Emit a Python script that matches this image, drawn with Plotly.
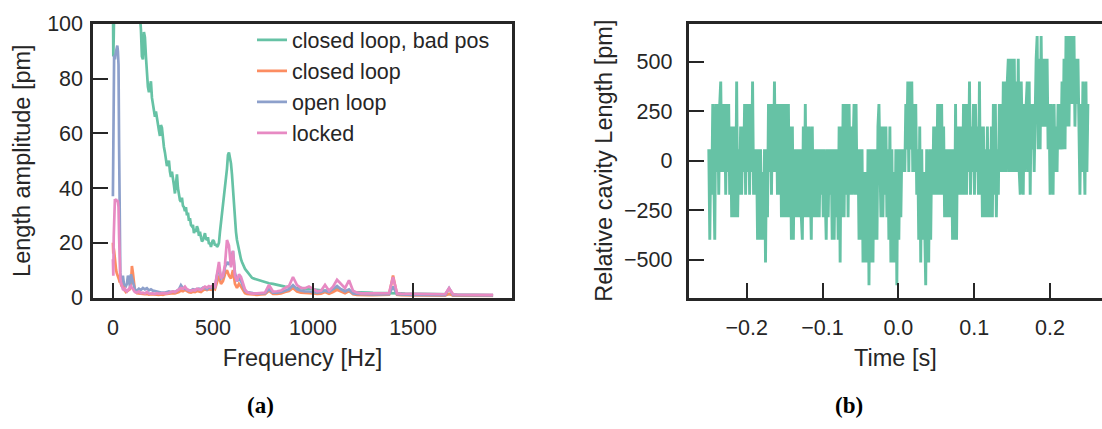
import numpy as np
import plotly.graph_objects as go

# ---------------- data: panel (a) ----------------
freq_hz = [0, 2, 4, 6, 8, 10, 13, 16, 19, 22, 25, 28, 31, 34, 37, 40, 45, 50, 55, 60,
           65, 70, 75, 80, 85, 90, 95, 100, 105, 110,
           120, 130, 140, 150, 160, 170, 180, 190, 200,
           210, 220, 230, 240, 250, 260, 270, 280, 290, 300,
           310, 320, 330, 340, 350, 360, 370, 380, 390, 400,
           410, 420, 430, 440, 450, 460, 470, 480, 490, 500,
           510, 520, 530, 540, 550, 560, 570, 580, 590, 600,
           610, 620, 630, 640, 650, 660, 670, 680, 690, 700,
           720, 740, 760, 780, 800, 820, 840, 860, 880, 900,
           920, 940, 960, 980, 1000, 1020, 1040, 1060, 1080, 1100,
           1120, 1140, 1160, 1180, 1200, 1220, 1240, 1260, 1280, 1300,
           1320, 1340, 1360, 1380, 1400, 1420, 1440, 1460, 1480, 1500,
           1520, 1540, 1560, 1580, 1600, 1620, 1640, 1660, 1680, 1700,
           1720, 1740, 1760, 1780, 1800, 1820, 1840, 1860, 1880, 1900]

# finer frequency grid for the noisy "bad pos" spectrum
freq_hz_bad_pos = [0, 2, 4, 6, 8, 10, 13, 16, 19, 22, 25, 28, 31, 34, 37, 40, 45, 50, 55, 60,
                   65, 70, 75, 80, 85, 90, 95, 100, 105, 110,
                   115, 120, 125, 130, 135, 140, 145, 150, 155, 160,
                   165, 170, 175, 180, 185, 190, 195, 200, 205, 210,
                   215, 220, 225, 230, 235, 240, 245, 250, 255, 260,
                   265, 270, 275, 280, 285, 290, 295, 300, 305, 310,
                   315, 320, 325, 330, 335, 340, 345, 350, 355, 360,
                   365, 370, 375, 380, 385, 390, 395, 400, 405, 410,
                   415, 420, 425, 430, 435, 440, 445, 450, 455, 460,
                   465, 470, 475, 480, 485, 490, 495, 500, 505, 510,
                   515, 520, 525, 530, 535, 540, 545, 550, 555, 560,
                   565, 570, 575, 580, 585, 590, 595, 600, 605, 610,
                   615, 620, 625, 630, 635, 640, 645, 650, 655, 660,
                   665, 670, 675, 680, 685, 690, 695, 700,
                   720, 740, 760, 780, 800, 820, 840, 860, 880, 900,
                   920, 940, 960, 980, 1000, 1020, 1040, 1060, 1080, 1100,
                   1120, 1140, 1160, 1180, 1200, 1220, 1240, 1260, 1280, 1300,
                   1320, 1340, 1360, 1380, 1400, 1420, 1440, 1460, 1480, 1500,
                   1520, 1540, 1560, 1580, 1600, 1620, 1640, 1660, 1680, 1700,
                   1720, 1740, 1760, 1780, 1800, 1820, 1840, 1860, 1880, 1900]

amp_closed_bad_pos = [112, 88, 95, 104, 116, 125, 135, 140, 138, 145, 150, 148, 152, 150, 153, 155, 152, 150, 147, 145,
                      143, 140, 138, 136, 134, 131, 129, 127, 124, 121,
                      118, 116, 112, 108, 103, 98, 88, 87, 97, 95,
                      88, 81, 77, 75, 78, 79, 73, 70, 69, 66,
                      68, 65, 62, 61, 59, 63, 62, 57, 55, 53,
                      51, 48, 49, 50, 46, 44, 46, 42, 41, 38,
                      41, 45, 40, 37, 35.5, 35, 36.5, 33.5, 33, 31.5,
                      33, 30, 31, 28, 29, 26.5, 26, 26.5, 23.5, 25,
                      24, 26, 25, 22.5, 24, 22, 20.5, 21, 23, 23.5,
                      21.5, 21, 22, 19.5, 20, 18.5, 20, 21, 20.5, 19,
                      19.5, 18.5, 19, 20, 24, 27, 30, 33, 36, 41,
                      44, 47, 52, 53, 51, 49, 45, 39, 33, 29,
                      24, 21, 19, 17, 15, 14, 13, 12, 11, 10.5,
                      10, 9.5, 9, 8.5, 8, 7.5, 7.2, 7,
                      6.5, 6.2, 5.6, 5.2, 5.0, 4.6, 4.3, 4.0, 3.8, 3.6,
                      3.4, 3.5, 3.1, 3.2, 2.9, 2.8, 2.6, 2.5, 2.5, 2.7,
                      3.3, 2.8, 2.4, 2.2, 2.0, 2.0, 1.9, 1.8, 1.8, 1.7,
                      1.7, 1.6, 1.6, 1.6, 1.7, 1.5, 1.5, 1.4, 1.4, 1.4,
                      1.4, 1.3, 1.3, 1.3, 1.3, 1.2, 1.2, 1.2, 1.4, 1.2,
                      1.1, 1.1, 1.1, 1.1, 1.0, 1.0, 1.0, 1.0, 1.0, 0.9]

amp_closed = [20, 16, 18, 17, 15, 13, 11, 10, 9, 8.5, 8, 7.5, 6.5, 5.5, 7, 5, 4, 6, 3.5, 2.5,
              2.0, 2.2, 2.4, 2.6, 3.0, 5.0, 11.5, 9.0, 4.0, 2.4,
              1.6, 1.5, 1.3, 1.4, 1.2, 1.3, 1.1, 1.2, 1.1,
              1.0, 1.1, 1.0, 1.1, 1.0, 1.2, 1.3, 1.5, 1.4, 1.6,
              1.5, 1.8, 2.0, 2.6, 2.3, 2.8, 2.2, 1.9, 1.8, 2.1,
              2.0, 2.4, 2.2, 2.0, 2.6, 3.0, 2.7, 3.0, 2.8, 3.4,
              3.0, 6.0, 8.0, 5.0, 6.0, 8.5, 10.0, 8.0, 7.0, 10.0,
              5.0, 3.5, 5.0, 4.0, 2.5, 1.6, 1.3, 1.2, 1.1, 1.1,
              1.0, 1.1, 1.2, 2.5, 1.3, 1.3, 1.5, 2.0, 2.4, 3.5,
              2.2, 1.8, 1.7, 1.8, 1.5, 1.3, 1.4, 2.0, 1.4, 2.0,
              2.8, 2.2, 1.6, 2.4, 1.2, 1.0, 0.9, 0.9, 0.9, 0.9,
              0.9, 0.9, 0.9, 1.0, 8.0, 1.0, 0.9, 0.8, 0.8, 0.8,
              0.8, 0.8, 0.8, 0.8, 0.8, 0.7, 0.7, 0.7, 1.4, 0.7,
              0.7, 0.7, 0.7, 0.7, 0.7, 0.6, 0.6, 0.6, 0.6, 0.6]

amp_open = [37, 60, 87, 88, 88, 87, 89, 90, 91, 92, 90, 85, 55, 20, 9, 6.5, 5.5, 8, 5, 4.5,
            4.2, 5, 8, 7, 4, 8.5, 7, 5, 3.5, 3,
            2.5, 3.2, 2.8, 3.5, 3.0, 3.4, 2.6, 3.0, 2.5,
            2.4, 2.2, 2.0, 1.8, 1.7, 1.8, 2.0, 2.2, 2.0, 2.2,
            2.0, 2.6, 3.0, 4.5, 3.5, 3.2, 2.8, 2.6, 2.6, 3.0,
            2.8, 3.0, 3.2, 3.0, 3.6, 3.5, 3.0, 3.8, 3.5, 4.0,
            3.8, 8.0, 11, 7, 7.5, 11, 13, 12, 14, 17,
            9, 6, 7, 6, 4, 2.5, 2.0, 1.8, 1.6, 1.6,
            1.4, 1.5, 1.6, 3.0, 1.8, 1.8, 2.0, 2.5, 3.0, 4.5,
            3.0, 2.5, 2.2, 2.2, 2.0, 1.8, 2.0, 2.5, 2.0, 3.0,
            4.2, 3.0, 2.2, 3.0, 1.5, 1.3, 1.2, 1.2, 1.2, 1.1,
            1.1, 1.1, 1.1, 1.2, 4.0, 1.2, 1.1, 1.0, 1.0, 1.0,
            1.0, 1.0, 1.0, 1.0, 0.9, 0.9, 0.9, 0.9, 3.4, 0.9,
            0.9, 0.9, 0.8, 0.8, 0.8, 0.8, 0.8, 0.8, 0.8, 0.8]

amp_locked = [14, 8, 22, 33, 36, 36, 35.5, 36, 35, 35.5, 35, 33, 22, 12, 7, 5.5, 4.5, 3, 2.8, 3.2,
              2.5, 2.2, 2.8, 3.0, 3.8, 4.2, 3.5, 3.2, 2.5, 2.0,
              1.8, 2.2, 1.6, 1.8, 1.5, 2.0, 1.4, 1.5, 1.5,
              1.3, 1.6, 1.4, 1.5, 1.4, 1.6, 1.5, 1.7, 1.8, 2.2,
              2.0, 2.5, 2.8, 3.5, 3.2, 4.0, 3.0, 2.6, 2.4, 2.8,
              2.6, 3.2, 3.0, 2.8, 3.5, 4.0, 3.6, 4.2, 3.8, 4.5,
              4.0, 9.5, 13, 7, 8, 12, 21, 19, 11, 17,
              8, 6, 8.5, 7.5, 5, 3, 2.0, 1.7, 1.5, 1.4,
              1.5, 1.6, 1.8, 4.6, 2.2, 2.3, 2.5, 3.5, 4.2, 7.5,
              4.5, 3.5, 3.4, 4.0, 3.0, 2.3, 2.5, 4.6, 2.5, 4.0,
              6.5, 5.0, 3.4, 6.3, 2.5, 1.8, 1.5, 1.5, 1.5, 1.5,
              1.5, 1.4, 1.5, 1.6, 7.5, 1.5, 1.4, 1.4, 1.3, 1.3,
              1.3, 1.3, 1.2, 1.2, 1.2, 1.2, 1.2, 1.2, 3.4, 1.2,
              1.1, 1.1, 1.1, 1.1, 1.1, 1.0, 1.0, 1.0, 1.0, 1.0]

series_names = ["closed loop, bad pos", "closed loop", "open loop", "locked"]

# ---------------- data: panel (b) ----------------
cavity_length_pm = [
    57, -400, 57, -172, 286, -172, -400, 286, -57, 286, -172, 286, 400, -57, 286, -57, 286, -172, 286, -57,
    286, -172, 172, -286, 172, -286, 172, -286, 400, -286, 57, -172, 172, -172, 172, -57, 286, -172, 286, -57,
    286, -172, 286, -57, 400, -172, 57, -172, 57, -400, 57, -400, 57, -400, -57, -400, 57, -515, 57, -286,
    286, -57, 286, -172, 286, -57, 400, -57, 286, -172, 286, -172, 286, -286, 286, -286, 286, -286, 286, -286,
    286, -286, 172, -400, 172, -400, 57, -286, 57, -286, 57, -286, 57, -286, -400, 172, -286, 286, -286, 172,
    -286, 172, -286, -400, 172, -286, 57, -286, 57, -286, 57, -286, 57, -172, 57, -286, 57, -172, -400, 57,
    -286, 57, -172, 57, -400, 57, -400, 57, -286, 57, -400, 172, -515, 172, -286, 286, -286, 286, -172, 286,
    -286, 286, -172, 172, -172, 57, 286, -172, 286, -172, 57, -400, 57, -400, 57, -515, -57, -515, -57, -515,
    57, -630, 57, -515, 57, -515, 57, -400, 57, -400, 172, 286, -172, -286, 172, -286, 172, -172, 172, -286,
    57, -400, 172, -515, 57, -515, -57, -515, 57, -630, 57, -400, 57, -286, 57, -57, 57, -57, 286, 57,
    400, -57, 400, 57, 400, -57, 286, -57, 286, -172, 57, -400, 172, -515, 57, -400, -57, -400, -630, 57,
    -286, -515, 57, -400, 57, -172, 172, -172, 172, -172, 286, -172, 286, -172, 286, -172, 172, -286, 57, -286,
    57, -286, 57, -286, 57, -400, 57, -400, 286, -400, 172, -172, 172, -172, 172, -172, 286, -172, 286, -172,
    286, -57, 400, -172, 172, -57, 286, -172, 286, -57, 172, -172, 400, -172, 172, -286, 172, -286, 57, -286,
    172, -286, 57, -286, 172, -286, 286, -172, 286, -286, 57, -172, 286, -57, 286, -57, 400, -57, 400, -57,
    400, 515, -57, 515, -57, 515, -57, 515, -57, 400, -57, 515, -57, -172, 400, -57, -172, 286, -57, 286,
    400, -57, 400, -172, 286, 57, 286, -57, 286, 515, 630, 57, 515, 57, 630, 172, 515, 172, 515, 172,
    515, 57, 286, -172, 286, -57, -172, 286, -57, 172, -57, 286, 57, 286, 57, 400, 57, 515, 57, 630,
    172, 630, 172, 630, 286, 630, 286, 630, 172, 515, 286, 515, 172, -172, 286, -57, 400, -57, -172, 400,
    -57, 286]
time_start_s = -0.25
time_end_s = 0.25
time_s = np.linspace(time_start_s, time_end_s, len(cavity_length_pm))

freq_ticks = [0, 500, 1000, 1500]
amp_ticks = [0, 20, 40, 60, 80, 100]
time_ticks = [-0.2, -0.1, 0.0, 0.1, 0.2]
length_ticks = [-500, -250, 0, 250, 500]

# ---------------- figure ----------------
W, H = 1102, 429
INK = "#262626"
palette = ["#66c2a5", "#fc8d62", "#8da0cb", "#e78ac3"]
TICK_FS = 21.5
LABEL_FS = 23.5

spectra = [(freq_hz_bad_pos, amp_closed_bad_pos), (freq_hz, amp_closed),
           (freq_hz, amp_open), (freq_hz, amp_locked)]

fig = go.Figure()
for name, (fx, fy), col in zip(series_names, spectra, palette):
    fig.add_trace(go.Scatter(x=fx, y=fy, mode="lines", name=name,
                             line=dict(color=col, width=2.7),
                             xaxis="x", yaxis="y"))

fig.add_trace(go.Scatter(x=time_s, y=cavity_length_pm, mode="lines",
                         line=dict(color=palette[0], width=2.9),
                         showlegend=False, xaxis="x2", yaxis="y2"))

def px_x(p):
    return p / W

def px_y(p):
    return 1 - p / H

ydom = [px_y(303.5), px_y(13.5)]
axis_common = dict(showline=True, linecolor=INK, linewidth=3, showgrid=False,
                   zeroline=False, ticks="inside", ticklen=15, tickwidth=2.2,
                   tickcolor=INK, tickfont=dict(size=TICK_FS, color=INK))

fig.update_layout(
    width=W, height=H,
    margin=dict(l=0, r=0, t=0, b=0),
    paper_bgcolor="white", plot_bgcolor="white",
    font=dict(family="Liberation Sans", size=TICK_FS, color=INK),
    xaxis=dict(domain=[px_x(93.3), px_x(511.7)], range=[-98, 1993], anchor="y",
               tickvals=freq_ticks, tickformat="d", mirror=True,
               ticklabelstandoff=9,
               title=dict(text="Frequency [Hz]", standoff=11, font=dict(size=LABEL_FS)),
               **axis_common),
    yaxis=dict(domain=ydom, range=[0, 100], anchor="x", tickvals=amp_ticks,
               mirror=True, ticklabelstandoff=3,
               title=dict(text="Length amplitude [pm]", standoff=10, font=dict(size=LABEL_FS)),
               **axis_common),
    xaxis2=dict(domain=[px_x(688.7), 1.0], range=[-0.2765, 0.2686], anchor="y2",
                tickvals=time_ticks, tickformat=".1f", mirror=True,
                ticklabelstandoff=9,
                title=dict(text="Time [s]", standoff=11, font=dict(size=LABEL_FS)),
                **axis_common),
    yaxis2=dict(domain=ydom, range=[-692, 692], anchor="x2", tickvals=length_ticks,
                mirror=False, ticklabelstandoff=9,
                title=dict(text="Relative cavity Length [pm]", standoff=5, font=dict(size=LABEL_FS)),
                **axis_common),
    legend=dict(x=px_x(252), y=px_y(9), xanchor="left", yanchor="top",
                bgcolor="rgba(0,0,0,0)", borderwidth=0,
                font=dict(size=TICK_FS, color=INK)),
    annotations=[
        dict(text="<b>(a)</b>", x=px_x(260), y=px_y(418), xref="paper", yref="paper",
             xanchor="center", yanchor="middle", showarrow=False,
             font=dict(family="Liberation Serif", size=23, color="black")),
        dict(text="<b>(b)</b>", x=px_x(849), y=px_y(418), xref="paper", yref="paper",
             xanchor="center", yanchor="middle", showarrow=False,
             font=dict(family="Liberation Serif", size=23, color="black")),
    ],
)

fig.write_html("out.html")
